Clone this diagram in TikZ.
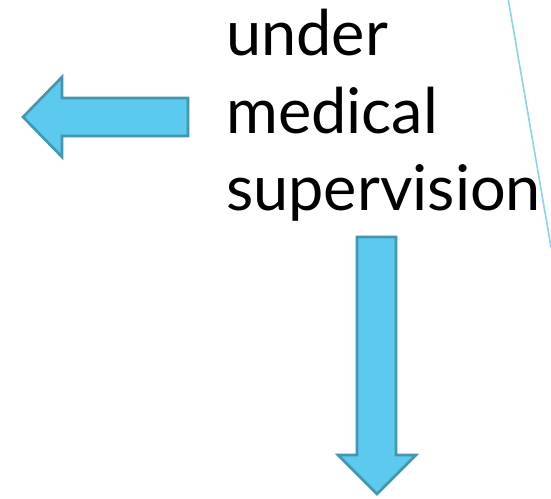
\documentclass[tikz,border=0pt]{standalone}
\usepackage{fontspec}
\setmainfont{Lato}
\definecolor{arrowfill}{HTML}{5CCAEE}
\definecolor{arrowedge}{HTML}{4396AF}
\definecolor{rule}{HTML}{86D4F0}
\begin{document}
\begin{tikzpicture}[x=1pt,y=-1pt,
  bigarrow/.style={fill=arrowfill,draw=arrowedge,line width=2.6pt,line join=miter},
  word/.style={anchor=base west,inner sep=0pt,font=\fontsize{63}{70}\selectfont}]
\useasboundingbox (0,0) rectangle (551,498);
% thin slanted rule
\coordinate (r1) at (508,-2);
\coordinate (r2) at (551,247);
\draw[rule,line width=1.6pt] (r1) -- (r2);
% left arrow
\draw[bigarrow] (23,117) -- (62,77) -- (62,98) -- (188,98) -- (188,136) -- (62,136) -- (62,157) -- cycle;
% down arrow
\draw[bigarrow] (357,237) -- (396,237) -- (396,455) -- (416,455) -- (377,494) -- (338,455) -- (357,455) -- cycle;
% text
\node[word] (t1) at (226,55) {under};
\node[word] (t2) at (226,133) {medical};
\node[word] (t3) at (226,210) {supervision};
\end{tikzpicture}
\end{document}
